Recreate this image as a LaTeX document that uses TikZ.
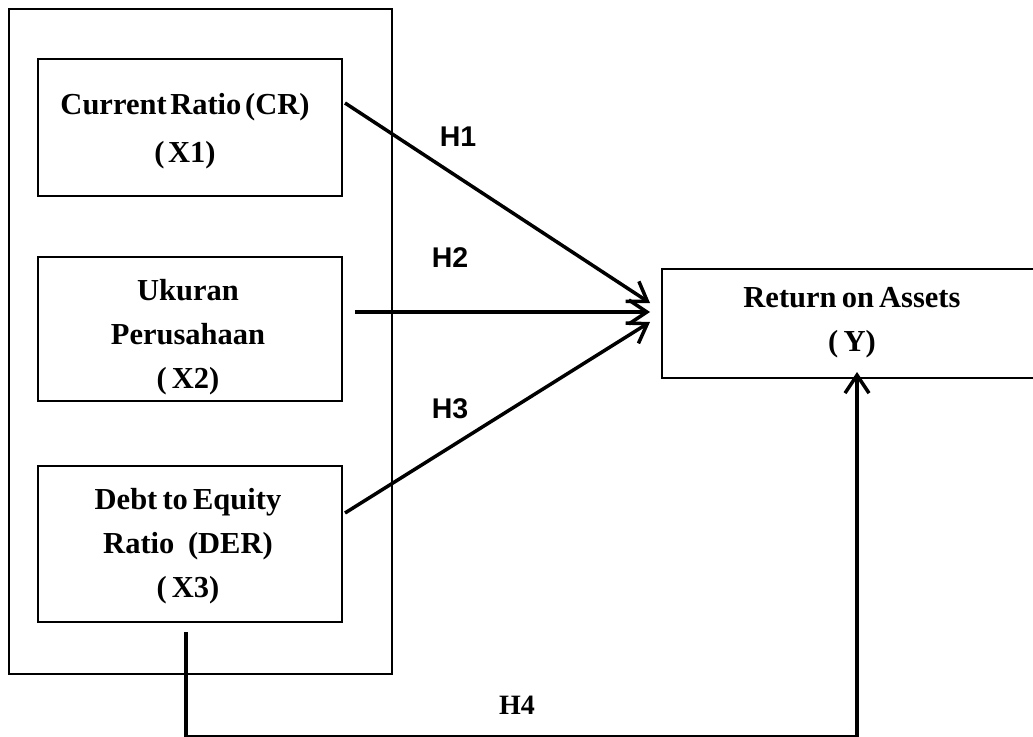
\documentclass[tikz,border=0pt]{standalone}
\usepackage{fontspec}
\setmainfont{Liberation Serif}
\newfontfamily\hsans{Liberation Sans}
\usetikzlibrary{arrows.meta}
\newcommand{\bxfont}{\fontsize{30.5}{44}\selectfont\bfseries\spaceskip=0.17em plus 0.02em\relax}
\newcommand{\bxfonta}{\fontsize{30.5}{48}\selectfont\bfseries\spaceskip=0.12em\relax}
\begin{document}
\begin{tikzpicture}[x=1pt,y=-1pt,
  box/.style={draw,line width=2pt,inner sep=0pt},
  btext/.style={inner sep=0pt,align=center,font=\bxfont},
  arr/.style={line width=3.5pt,-{Straight Barb[length=18pt,width=24pt,line width=3.5pt]}},
  hlab/.style={font=\hsans\fontsize{28.5}{30}\selectfont\bfseries},
  hlabs/.style={font=\fontsize{28}{30}\selectfont\bfseries}]
\useasboundingbox (0,0) rectangle (1033,736);
\node[box,minimum width=383pt,minimum height=665pt] (outer) at (200.5,341.5) {};
\node[box,minimum width=304pt,minimum height=137pt] (x1) at (190,127.5) {};
\node[box,minimum width=304pt,minimum height=144pt] (x2) at (190,329) {};
\node[box,minimum width=304pt,minimum height=156pt] (x3) at (190,544) {};
\node[box,minimum width=380pt,minimum height=109pt] (y) at (852,323.5) {};
\node[btext,font=\bxfonta] (x1t) at (185,131.5) {Current Ratio (CR)\\( X1)};
\node[btext] (x2t) at (188,337) {Ukuran\\Perusahaan\\( X2)};
\node[btext] (x3t) at (188,546) {Debt to Equity\\Ratio \;(DER)\\( X3)};
\node[btext] (yt) at (852,323) {Return on Assets\\( Y)};
\coordinate (s1) at (345,103);
\coordinate (s2) at (355,312);
\coordinate (s3) at (345,513);
\coordinate (t1) at (650,303);
\coordinate (t2) at (650,312);
\coordinate (t3) at (650,322);
\coordinate (s4) at (186,632);
\coordinate (t4) at (857,372);
\draw[arr] (s1) -- (t1);
\draw[arr] (s2) -- (t2);
\draw[arr] (s3) -- (t3);
\draw[arr] (s4) -- (186,736.5) -- (857,736.5) -- (t4);
\node[hlab] (h1) at (458,137) {H1};
\node[hlab] (h2) at (450,258) {H2};
\node[hlab] (h3) at (450,409) {H3};
\node[hlabs] (h4) at (517,705) {H4};
\end{tikzpicture}
\end{document}
